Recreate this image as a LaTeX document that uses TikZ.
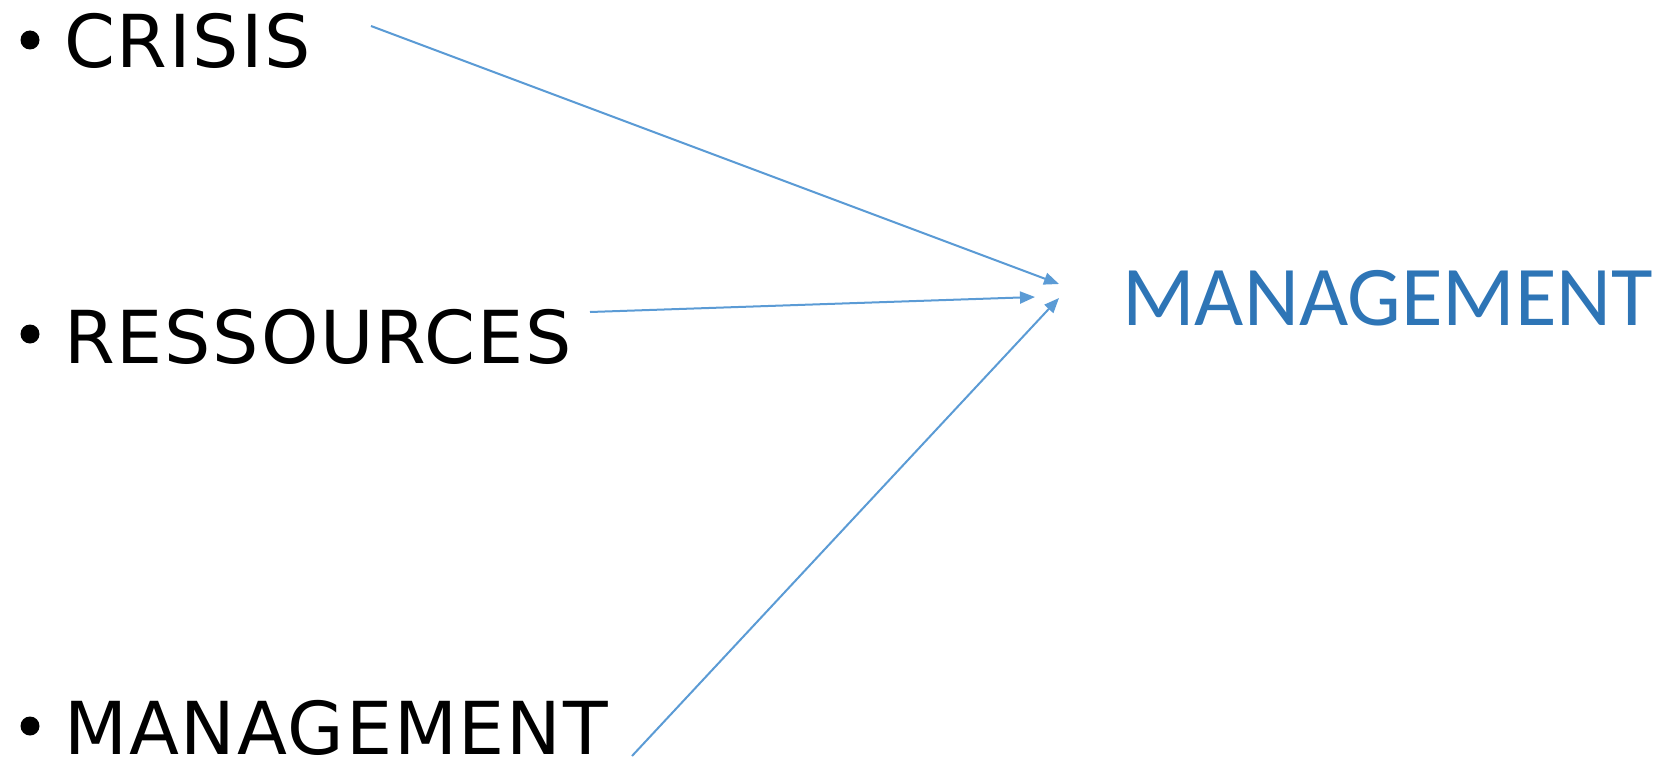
\documentclass[tikz,border=0pt]{standalone}
\usepackage{fontspec}
\setmainfont[LetterSpace=2.5]{DejaVu Sans}
\newfontfamily\carlito{Carlito}
\usetikzlibrary{arrows.meta}

\definecolor{linkblue}{RGB}{91,155,213}
\definecolor{titleblue}{RGB}{46,117,182}

\tikzset{
  item/.style={anchor=base west, inner sep=0pt, font=\fontsize{73bp}{80bp}\selectfont},
  dot/.style={circle, fill=black, inner sep=0pt, minimum size=19bp},
  goal/.style={anchor=base west, inner sep=0pt, text=titleblue, font=\carlito\fontsize{85bp}{90bp}\selectfont},
  link/.style={-{Triangle[length=15bp,width=12bp]}, line width=2bp, linkblue}
}

\begin{document}
\begin{tikzpicture}[x=1bp,y=-1bp]
        \useasboundingbox (0,0) rectangle (1660,758);

        % Bullet list
        \node[dot] (dot1) at (30,40) {};
        \node[item] (crisis) at (64,68) {CRISIS};
        \node[dot] (dot2) at (30,334) {};
        \node[item] (ress) at (64,363) {RESSOURCES};
        \node[dot] (dot3) at (30,726) {};
        \node[item] (mgmt) at (64,754) {MANAGEMENT};

        % Result
        \node[goal] (result) at (1122,325) {MANAGEMENT};

        % Arrow ends
        \coordinate (crisis-out) at (371,26);
        \coordinate (ress-out) at (590,312);
        \coordinate (mgmt-out) at (632,756);
        \coordinate (in1) at (1059,284);
        \coordinate (in2) at (1035,297);
        \coordinate (in3) at (1059,298);

        % Arrows
        \draw[link] (crisis-out) -- (in1);
        \draw[link] (ress-out) -- (in2);
        \draw[link] (mgmt-out) -- (in3);

    \end{tikzpicture}
\end{document}
